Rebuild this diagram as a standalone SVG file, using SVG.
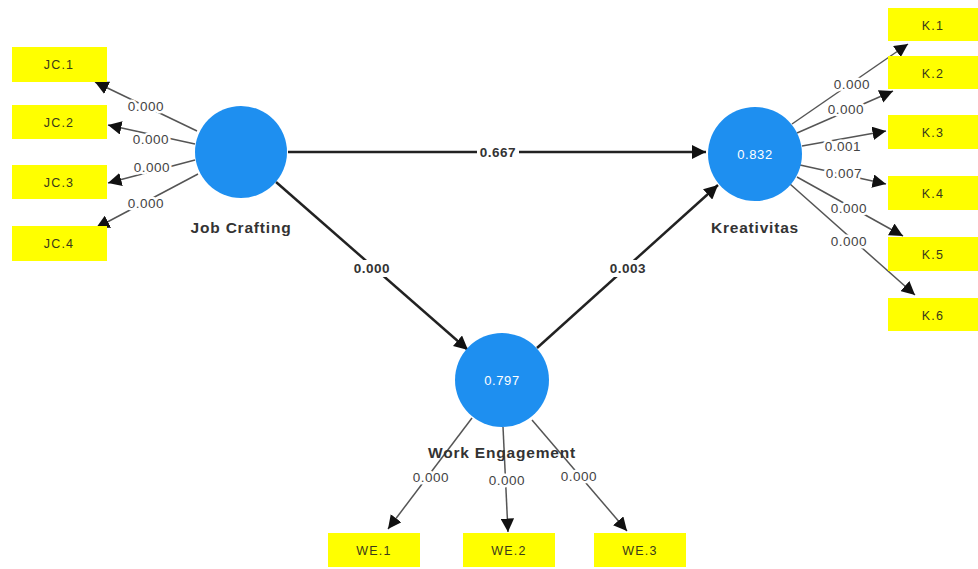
<svg xmlns="http://www.w3.org/2000/svg" width="978" height="569" viewBox="0 0 978 569">
<style>
.ind{fill:#ffff00}
.it{font-family:"Liberation Sans",Arial,sans-serif;font-size:12.5px;letter-spacing:1.2px;fill:#3a3a1a;text-anchor:middle}
.lv{fill:#1e8ff0}
.lt{font-family:"Liberation Sans",Arial,sans-serif;font-size:15.5px;letter-spacing:0.8px;font-weight:bold;fill:#333;text-anchor:middle}
.r2{font-family:"Liberation Sans",Arial,sans-serif;font-size:13px;letter-spacing:0.6px;fill:#fff;text-anchor:middle}
.w{font-family:"Liberation Sans",Arial,sans-serif;font-size:13.5px;letter-spacing:0.5px;fill:#444;text-anchor:middle;stroke:#fff;stroke-width:5px;paint-order:stroke;stroke-linejoin:round}
.wb{font-weight:bold;fill:#333}
.s{stroke:#222;stroke-width:2.5;fill:none}
.l{stroke:#555;stroke-width:1.5;fill:none}
.bg{fill:#fff}
</style>
<defs>
<marker id="ah" viewBox="0 0 10 10" refX="10" refY="5" markerWidth="5.6" markerHeight="5.6" markerUnits="strokeWidth" orient="auto"><path d="M0,0L10,5L0,10z" fill="#111"/></marker>
<marker id="ah2" viewBox="0 0 10 10" refX="10" refY="5" markerWidth="9" markerHeight="9" markerUnits="strokeWidth" orient="auto"><path d="M0,0L10,5L0,10z" fill="#111"/></marker>
</defs>
<rect width="978" height="569" fill="#fff"/>
<g id="connectors">
<line class="s" x1="288" y1="152" x2="706" y2="152" marker-end="url(#ah)"/>
<line class="s" x1="276" y1="182" x2="468" y2="350" marker-end="url(#ah)"/>
<line class="s" x1="537" y1="348" x2="718" y2="185" marker-end="url(#ah)"/>
<line class="l" x1="197" y1="131" x2="95" y2="82" marker-end="url(#ah2)"/>
<line class="l" x1="195" y1="144" x2="108" y2="125" marker-end="url(#ah2)"/>
<line class="l" x1="195" y1="160" x2="108" y2="183" marker-end="url(#ah2)"/>
<line class="l" x1="198" y1="174" x2="96" y2="228" marker-end="url(#ah2)"/>
<line class="l" x1="792" y1="124" x2="908" y2="44" marker-end="url(#ah2)"/>
<line class="l" x1="797" y1="133" x2="893" y2="91" marker-end="url(#ah2)"/>
<line class="l" x1="802" y1="146" x2="886" y2="131" marker-end="url(#ah2)"/>
<line class="l" x1="800" y1="165" x2="886" y2="184" marker-end="url(#ah2)"/>
<line class="l" x1="797" y1="177" x2="903" y2="236" marker-end="url(#ah2)"/>
<line class="l" x1="790" y1="184" x2="915" y2="295" marker-end="url(#ah2)"/>
<line class="l" x1="472" y1="418" x2="388" y2="529" marker-end="url(#ah2)"/>
<line class="l" x1="503" y1="427" x2="508" y2="532" marker-end="url(#ah2)"/>
<line class="l" x1="532" y1="420" x2="627" y2="531" marker-end="url(#ah2)"/>
<rect class="bg" x="477" y="144" width="42" height="16"/>
<rect class="bg" x="351" y="260" width="42" height="17"/>
<rect class="bg" x="607" y="260" width="42" height="17"/>
<text class="w wb" x="498" y="157">0.667</text>
<text class="w wb" x="372" y="273">0.000</text>
<text class="w wb" x="628" y="273">0.003</text>
<text class="w" x="146" y="111">0.000</text>
<text class="w" x="151" y="144">0.000</text>
<text class="w" x="152" y="172">0.000</text>
<text class="w" x="146" y="208">0.000</text>
<text class="w" x="852" y="89">0.000</text>
<text class="w" x="846" y="114">0.000</text>
<text class="w" x="843" y="151">0.001</text>
<text class="w" x="844" y="178">0.007</text>
<text class="w" x="849" y="213">0.000</text>
<text class="w" x="849" y="246">0.000</text>
<text class="w" x="431" y="482">0.000</text>
<text class="w" x="507" y="485">0.000</text>
<text class="w" x="579" y="481">0.000</text>
</g>
<g id="JobCrafting"><circle class="lv" cx="241" cy="152" r="46"/><text class="lt" x="241" y="233">Job Crafting</text></g>
<g id="Kreativitas"><circle class="lv" cx="755" cy="154" r="47"/><text class="r2" x="755" y="159">0.832</text><text class="lt" x="755" y="233">Kreativitas</text></g>
<g id="WorkEngagement"><circle class="lv" cx="502" cy="380" r="47"/><text class="r2" x="502" y="385">0.797</text><text class="lt" x="502" y="458">Work Engagement</text></g>
<g id="JC1"><rect class="ind" x="12" y="47" width="95" height="35"/><text class="it" x="59" y="69">JC.1</text></g>
<g id="JC2"><rect class="ind" x="12" y="105" width="95" height="34"/><text class="it" x="59" y="127">JC.2</text></g>
<g id="JC3"><rect class="ind" x="12" y="165" width="95" height="34"/><text class="it" x="59" y="187">JC.3</text></g>
<g id="JC4"><rect class="ind" x="12" y="226" width="95" height="35"/><text class="it" x="59" y="248">JC.4</text></g>
<g id="K1"><rect class="ind" x="888" y="8" width="90" height="33"/><text class="it" x="933" y="30">K.1</text></g>
<g id="K2"><rect class="ind" x="888" y="56" width="90" height="33"/><text class="it" x="933" y="78">K.2</text></g>
<g id="K3"><rect class="ind" x="888" y="115" width="90" height="34"/><text class="it" x="933" y="137">K.3</text></g>
<g id="K4"><rect class="ind" x="888" y="176" width="90" height="34"/><text class="it" x="933" y="198">K.4</text></g>
<g id="K5"><rect class="ind" x="888" y="237" width="90" height="34"/><text class="it" x="933" y="259">K.5</text></g>
<g id="K6"><rect class="ind" x="888" y="298" width="90" height="33"/><text class="it" x="933" y="320">K.6</text></g>
<g id="WE1"><rect class="ind" x="328" y="533" width="92" height="34"/><text class="it" x="374" y="555">WE.1</text></g>
<g id="WE2"><rect class="ind" x="463" y="533" width="92" height="34"/><text class="it" x="509" y="555">WE.2</text></g>
<g id="WE3"><rect class="ind" x="594" y="533" width="92" height="34"/><text class="it" x="640" y="555">WE.3</text></g>
</svg>
